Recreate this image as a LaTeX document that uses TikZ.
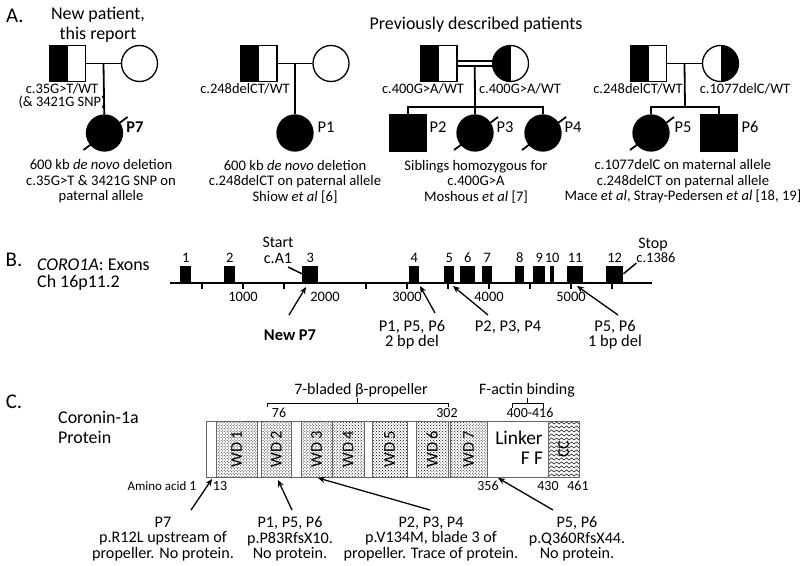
\documentclass[tikz,border=0pt]{standalone}
\usepackage{fontspec}
\setmainfont{Carlito}
\usetikzlibrary{positioning, arrows.meta, patterns, decorations.pathmorphing, calc}
\tikzset{
  male/.style={draw, rectangle, line width=1.3bp, minimum size=36bp, inner sep=0pt},
  female/.style={draw, circle, line width=1.3bp, minimum size=36bp, inner sep=0pt},
  affected/.style={fill=black},
  carrierL/.style={path picture={\fill (path picture bounding box.south west) rectangle (path picture bounding box.north);}},
  carrierR/.style={path picture={\fill (path picture bounding box.south) rectangle (path picture bounding box.north east);}},
  kin/.style={line width=1.8bp},
  slash/.style={line width=1.8bp},
  panel/.style={font=\fontsize{21}{22}\selectfont, inner sep=0pt},
  heading/.style={font=\fontsize{18}{20}\selectfont, align=center, inner sep=0pt},
  genotype/.style={font=\fontsize{14.5}{13.5}\selectfont, align=center, inner sep=0pt},
  caption/.style={font=\fontsize{14.7}{15.5}\selectfont, align=center, inner sep=0pt},
  plabel/.style={font=\fontsize{16.5}{18}\selectfont, inner sep=0pt},
  exon/.style={fill=black, inner sep=0pt, minimum height=16bp, anchor=south west},
  exnum/.style={font=\fontsize{14.5}{15}\selectfont, inner sep=0pt},
  note/.style={font=\fontsize{16}{16}\selectfont, align=center, inner sep=0pt},
  mutation/.style={font=\fontsize{16.5}{15}\selectfont, align=center, inner sep=0pt},
  pointer/.style={-{Stealth[length=7bp, width=6bp]}, line width=1.3bp},
  wdblock/.style={draw=black!60, pattern=crosshatch dots, minimum height=56bp, inner sep=0pt, anchor=north west},
  spacer/.style={draw=black!60, minimum height=56bp, inner sep=0pt, anchor=north west},
  wdtext/.style={font=\fontsize{16.5}{16}\selectfont, rotate=90, inner sep=0pt},
  residue/.style={font=\fontsize{14}{14}\selectfont, inner sep=0pt},
  effect/.style={font=\fontsize{16.2}{15.3}\selectfont, align=center, inner sep=0pt}
}
\begin{document}
\begin{tikzpicture}[x=1bp, y=-1bp]
  \useasboundingbox (0,0) rectangle (800,566);

  % A. pedigrees
  \node[panel] (pa) at (15,16) {A.};
  \node[heading] (newhead) at (98,25) {New patient,\\this report};
  \node[heading] (prevhead) at (476,25) {Previously described patients};

  % new patient P7
  \node[male, carrierL] (f1) at (67.5,63.5) {};
  \node[female] (m1) at (139.5,63.5) {};
  \node[female, affected] (p7) at (104.5,133) {};
  \draw[kin] (f1) -- coordinate (u1) (m1);
  \draw[kin] (u1) -- (p7);
  \draw[slash] (p7.center) ++(-21,17) -- ++(44,-33);
  \node[genotype] (g1) at (62,96) {c.35G>T/WT\\(\& 3421G SNP)};
  \node[plabel, font=\fontsize{16.5}{18}\selectfont\bfseries] (l7) at (135,127) {P7};
  \node[caption] (c1) at (101,181.5) {600 kb \emph{de novo} deletion\\c.35G>T \& 3421G SNP on\\paternal allele};

  % P1
  \node[male, carrierL] (f2) at (259,63.5) {};
  \node[female] (m2) at (331,63.5) {};
  \node[female, affected] (p1) at (295,133) {};
  \draw[kin] (f2) -- coordinate (u2) (m2);
  \draw[kin] (u2) -- (p1);
  \node[genotype] (g2) at (245,89) {c.248delCT/WT};
  \node[plabel] (l1) at (326,127) {P1};
  \node[caption] (c2) at (295,181.5) {600 kb \emph{de novo} deletion\\c.248delCT on paternal allele\\Shiow \emph{et al} [6]};

  % P2, P3, P4
  \node[male, carrierL] (f3) at (439,63.5) {};
  \node[female, carrierL] (m3) at (510.5,63.5) {};
  \node[male, affected] (p2) at (408,133) {};
  \node[female, affected] (p3) at (475,133) {};
  \node[female, affected] (p4) at (543,133) {};
  \coordinate (u3) at ($(f3.east)!0.5!(m3.west)$);
  \coordinate (s3) at (475,107);
  \draw[kin] (u3) -- (s3);
  \draw[kin, double, double distance=3.5bp] (f3) -- (m3);
  \draw[kin] (p2.north) |- (s3) -| (p4.north);
  \draw[kin] (s3) -- (p3);
  \draw[slash] (p3.center) ++(-21,17) -- ++(44,-33);
  \draw[slash] (p4.center) ++(-21,17) -- ++(44,-33);
  \node[genotype] (g3a) at (423,89) {c.400G>A/WT};
  \node[genotype] (g3b) at (520,89) {c.400G>A/WT};
  \node[plabel] (l2) at (438,127) {P2};
  \node[plabel] (l3) at (505,127) {P3};
  \node[plabel] (l4) at (573,127) {P4};
  \node[caption] (c3) at (476,181.5) {Siblings homozygous for\\c.400G>A\\Moshous \emph{et al} [7]};

  % P5, P6
  \node[male, carrierL] (f4) at (648.5,63.5) {};
  \node[female, carrierR] (m4) at (720.5,63.5) {};
  \node[female, affected] (p5) at (651,133) {};
  \node[male, affected] (p6) at (719,133) {};
  \draw[kin] (f4) -- coordinate (u4) (m4);
  \coordinate (s4) at (685,107);
  \draw[kin] (u4) -- (s4);
  \draw[kin] (p5.north) |- (s4) -| (p6.north);
  \draw[slash] (p5.center) ++(-21,17) -- ++(44,-33);
  \node[genotype] (g4a) at (638,89) {c.248delCT/WT};
  \node[genotype] (g4b) at (745,89) {c.1077delC/WT};
  \node[plabel] (l5) at (683,127) {P5};
  \node[plabel] (l6) at (750,127) {P6};
  \node[caption] (c4) at (683,181.5) {c.1077delC on maternal allele\\c.248delCT on paternal allele\\Mace \emph{et al}, Stray-Pedersen \emph{et al} [18, 19]};

  % B. gene
  \node[panel] (pb) at (14,260) {B.};
  \node[heading, anchor=west] (gene) at (37,265) {\emph{CORO1A}: Exons};
  \node[heading, anchor=west] (chrom) at (37,283) {Ch 16p11.2};
  \draw[line width=1.4bp] (170,283) -- (652,283);
  \foreach \t in {500,1000,1500,2500,3000,3500,4000,4500,5000,5500}
    \draw[line width=1.8bp] ({161+0.082*\t},283) -- ++(0,6);
  \foreach \t in {1000,2000,3000,4000,5000}
    \node[exnum] at ({161+0.082*\t},297) {\t};
  \foreach \a/\b/\n in {180/191/1, 224/235/2, 302/318/3, 409/419/4, 444/454/5, 460/475/6,
                        482/492/7, 515/524/8, 533/545/9, 550/554/10, 567/583/11, 606/623/12} {
    \node[exon, minimum width={(\b-\a)*1bp}] (ex\n) at (\a,282) {};
    \node[exnum, above=3bp of ex\n] {\n};
  }
  \node[note] (start) at (278,250) {Start\\c.A1};
  \coordinate (startpt) at (288,267);
  \draw[line width=1.5bp] (startpt) -- (ex3.west);
  \node[note] (stop) at (653,245) {Stop};
  \node[exnum] (stopc) at (656,258) {c.1386};
  \draw[line width=1.5bp] (ex12.east) -- (stopc.south west);

  \node[mutation, font=\fontsize{16.5}{15}\selectfont\bfseries] (mb7) at (290,335) {New P7};
  \node[mutation] (mb1) at (412,334.5) {P1, P5, P6\\2 bp del};
  \node[mutation] (mb2) at (508,327) {P2, P3, P4};
  \node[mutation] (mb5) at (615,334.5) {P5, P6\\1 bp del};
  \coordinate (tb7) at (289,315); \coordinate (hb7) at (306,287);
  \coordinate (tb1) at (435,313); \coordinate (hb1) at (420,286);
  \coordinate (tb2) at (488,315); \coordinate (hb2) at (453,286);
  \coordinate (tb5) at (618,315); \coordinate (hb5) at (577,286);
  \foreach \k in {7,1,2,5}
    \draw[pointer] (tb\k) -- (hb\k);

  % C. protein
  \node[panel] (pc) at (14,402) {C.};
  \node[heading, anchor=west] (prot) at (58,417) {Coronin-1a};
  \node[heading, anchor=west] (protb) at (58,437) {Protein};

  \node[spacer, minimum width=373bp] (box) at (206,421) {};
  \foreach \a/\b in {206/216, 257/261, 291/301, 364/372, 407/416, 448/450}
    \node[spacer, minimum width={(\b-\a)*1bp}] at (\a,421) {};
  \foreach \a/\b/\n in {216/257/1, 261/291/2, 301/332/3, 332/364/4, 372/407/5, 416/448/6, 450/487/7} {
    \node[wdblock, minimum width={(\b-\a)*1bp}] (wd\n) at (\a,421) {};
    \node[wdtext] at (wd\n) {WD \n};
  }
  \node[spacer, minimum width=61bp, fill=white] (linker) at (487,421) {};
  \node[font=\fontsize{19.5}{20}\selectfont, inner sep=0pt] (lk) at (519,438) {Linker};
  \node[font=\fontsize{19.5}{20}\selectfont, inner sep=0pt] (ff) at (532,458) {F F};
  \node[spacer, minimum width=31bp] (cc) at (548,421) {};
  \begin{scope}
    \clip (cc.south west) rectangle (cc.north east);
    \foreach \y in {423,427,...,479}
      \draw[decorate, decoration={snake, amplitude=1.1bp, segment length=5bp}, line width=0.5bp] (545,\y) -- (583,\y);
  \end{scope}
  \node[spacer, minimum width=31bp] at (548,421) {};
  \node[wdtext] at (cc) {CC};

  % domain brackets
  \coordinate (pl) at (267,407);
  \coordinate (pr) at (448,407);
  \draw[line width=1bp] (pl) -- ++(0,-4) -| (pr);
  \draw[line width=1bp] ($(pl)!0.5!(pr)+(0,-4)$) -- ++(0,-5);
  \node[note] (beta) at (361,390) {7-bladed β-propeller};
  \node[residue] (r76) at (279,413) {76};
  \node[residue] (r302) at (447,413) {302};
  \coordinate (al) at (512,408);
  \coordinate (ar) at (543,408);
  \draw[line width=1bp] (al) -- ++(0,-5) -| (ar);
  \draw[line width=1bp] ($(al)!0.5!(ar)+(0,-5)$) -- ++(0,-5);
  \node[note] (actin) at (527,390) {F-actin binding};
  \node[residue] (r400) at (530,413) {400-416};

  \node[residue, font=\fontsize{13}{13}\selectfont] (aa) at (157,486) {Amino acid};
  \node[residue] (r1) at (193,486) {1};
  \node[residue] (r13) at (220,486) {13};
  \node[residue] (r356) at (488,486) {356};
  \node[residue] (r430) at (548,486) {430};
  \node[residue] (r461) at (578,486) {461};

  \node[effect] (e7) at (163,539) {P7\\p.R12L upstream of\\propeller. No protein.};
  \node[effect] (e1) at (290,539) {P1, P5, P6\\p.P83RfsX10.\\No protein.};
  \node[effect] (e2) at (431,539) {P2, P3, P4\\p.V134M, blade 3 of\\propeller. Trace of protein.};
  \node[effect] (e5) at (577,539) {P5, P6\\p.Q360RfsX44.\\No protein.};
  \coordinate (tc7) at (191,510); \coordinate (hc7) at (212,479);
  \coordinate (tc1) at (292,510); \coordinate (hc1) at (278,480);
  \coordinate (tc2) at (430,510); \coordinate (hc2) at (318,478);
  \coordinate (tc5) at (553,510); \coordinate (hc5) at (498,478);
  \foreach \k in {7,1,2,5}
    \draw[pointer] (tc\k) -- (hc\k);
\end{tikzpicture}
\end{document}
